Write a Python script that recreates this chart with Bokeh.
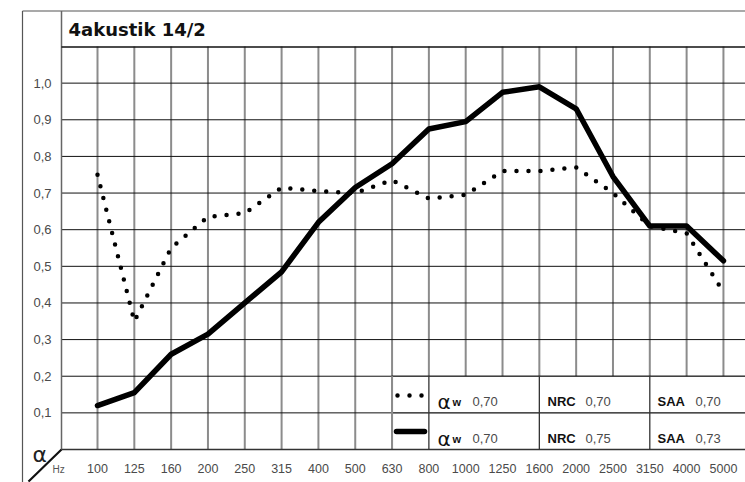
from bokeh.plotting import figure
from bokeh.models import Range1d
from bokeh.core.properties import value
from bokeh.embed import file_html
from bokeh.resources import INLINE

# ---------------- data ----------------
freqs = ["100", "125", "160", "200", "250", "315", "400", "500", "630", "800",
         "1000", "1250", "1600", "2000", "2500", "3150", "4000", "5000"]
alpha_dotted = [0.75, 0.35, 0.55, 0.635, 0.645, 0.715, 0.705, 0.70, 0.735, 0.685,
                0.695, 0.76, 0.76, 0.77, 0.70, 0.61, 0.59, 0.43]
alpha_solid = [0.12, 0.155, 0.26, 0.315, 0.40, 0.485, 0.62, 0.715, 0.78, 0.875,
               0.895, 0.975, 0.99, 0.93, 0.745, 0.61, 0.61, 0.515]
y_ticks = [0.1, 0.2, 0.3, 0.4, 0.5, 0.6, 0.7, 0.8, 0.9, 1.0]
y_tick_labels = ["0,1", "0,2", "0,3", "0,4", "0,5", "0,6", "0,7", "0,8", "0,9", "1,0"]
legend_aw = ["0,70", "0,70"]
legend_nrc = ["0,70", "0,75"]
legend_saa = ["0,70", "0,73"]
title_text = "4akustik 14/2"

# ---------------- layout constants (page pixels) ----------------
FIG_W, FIG_H = 745, 482
X_ORIGIN_PX = 97.0       # pixel of the first band (100 Hz)
PX_X = 36.82             # pixels per frequency band
Y_ORIGIN_PX = 449.0      # pixel of alpha = 0
PX_Y = 366.36            # pixels per alpha unit


def dx(px):  # page pixel -> data x
    return (px - X_ORIGIN_PX) / PX_X


def dy(py):  # page pixel -> data y
    return (Y_ORIGIN_PX - py) / PX_Y


X_START, X_END = dx(0), dx(FIG_W)
Y_START, Y_END = dy(FIG_H), dy(0)
PLOT_LEFT = dx(61)
PLOT_TOP = dy(46)

xs = list(range(len(freqs)))

p = figure(width=FIG_W, height=FIG_H, x_range=Range1d(X_START, X_END),
           y_range=Range1d(Y_START, Y_END), output_backend="svg", toolbar_location=None,
           min_border=0)
p.axis.visible = False
p.grid.visible = False
p.outline_line_color = None
p.background_fill_color = "white"
p.border_fill_color = "white"

LBL = value("Liberation Sans")

# grid lines
p.segment(x0=xs, y0=[0] * len(xs), x1=xs, y1=[PLOT_TOP] * len(xs),
          line_color="#8c8c8c", line_width=2)
p.segment(x0=[PLOT_LEFT] * len(y_ticks), y0=y_ticks, x1=[X_END + 1] * len(y_ticks),
          y1=y_ticks, line_color="#111111", line_width=1)

# tick labels
p.text(x=xs, y=[dy(468)] * len(xs), text=freqs, text_font=LBL, text_font_size="12.5px",
       text_color="#4a4a4a", text_align="center", text_baseline="middle")
p.text(x=[dx(51)] * len(y_ticks), y=y_ticks, text=y_tick_labels, text_font=LBL,
       text_font_size="13px", text_color="#4a4a4a", text_align="right",
       text_baseline="middle")

# legend table
cols = [8, 9, 12, 15]
rows = [0.0, 0.1, 0.2]
p.quad(left=cols[0], right=X_END + 1, bottom=rows[0], top=rows[2], fill_color="white",
       line_color=None)
p.segment(x0=[cols[0], cols[0]], y0=[rows[1], rows[2]], x1=[X_END + 1] * 2,
          y1=[rows[1], rows[2]], line_color="#111111", line_width=1.2)
p.segment(x0=[cols[0]], y0=[rows[0]], x1=[cols[0]], y1=[rows[2]],
          line_color="#8c8c8c", line_width=2)
p.segment(x0=cols[1:], y0=[rows[0]] * 3, x1=cols[1:], y1=[rows[2]] * 3,
          line_color="#333333", line_width=1.3)

# structural frame lines
frame_x0 = [22, 22, 61, 61, 61]
frame_y0 = [10.5, 10.5, 10.5, 46.5, 449]
frame_x1 = [22, 760, 61, 760, 760]
frame_y1 = [490, 10.5, 449, 46.5, 449]
frame_col = ["#555555", "#555555", "#666666", "#111111", "#333333"]
frame_w = [1.2, 1.2, 1.5, 1.5, 1.5]
p.segment(x0=[dx(v) for v in frame_x0], y0=[dy(v) for v in frame_y0],
          x1=[dx(v) for v in frame_x1], y1=[dy(v) for v in frame_y1],
          line_color=frame_col, line_width=frame_w)
# diagonal corner line
p.line([dx(61), dx(44.5), dx(28)], [dy(449), dy(465), dy(481)], line_color="#111111",
       line_width=2.2)

# curves
p.line(xs, alpha_solid, line_color="black", line_width=5.5, line_join="round",
       line_cap="round")
p.line(xs, alpha_dotted, line_color="black", line_width=4.5, line_dash="0 12",
       line_cap="round")

# legend samples and texts
p.line([dx(397), dx(423)], [dy(395)] * 2, line_color="black", line_width=4.5,
       line_dash="0 12", line_cap="round")
p.line([dx(396), dx(424)], [dy(431)] * 2, line_color="black", line_width=5.5,
       line_cap="round")
base = [dy(401), dy(438)]
p.text(x=[dx(437)] * 2, y=base, text=["α", "α"], text_font=value("DejaVu Sans"),
       text_font_size="20px", text_color="#111111", text_baseline="alphabetic")
p.text(x=[dx(452)] * 2, y=base, text=["w", "w"], text_font=LBL,
       text_font_size="11px", text_font_style="bold", text_color="#111111",
       text_baseline="alphabetic")
p.text(x=[dx(472)] * 2, y=base, text=legend_aw, text_font=LBL,
       text_font_size="13px", text_color="#4a4a4a", text_baseline="alphabetic")
p.text(x=[dx(547)] * 2, y=base, text=["NRC", "NRC"], text_font=LBL,
       text_font_size="13px", text_font_style="bold", text_color="#111111",
       text_baseline="alphabetic")
p.text(x=[dx(585)] * 2, y=base, text=legend_nrc, text_font=LBL,
       text_font_size="13px", text_color="#4a4a4a", text_baseline="alphabetic")
p.text(x=[dx(657)] * 2, y=base, text=["SAA", "SAA"], text_font=LBL,
       text_font_size="13px", text_font_style="bold", text_color="#111111",
       text_baseline="alphabetic")
p.text(x=[dx(695)] * 2, y=base, text=legend_saa, text_font=LBL,
       text_font_size="13px", text_color="#4a4a4a", text_baseline="alphabetic")

# title, alpha symbol, Hz
p.text(x=[dx(68)], y=[dy(29)], text=[title_text], text_font=value("DejaVu Sans"),
       text_font_size="18px", text_font_style="bold", text_color="#111111",
       text_baseline="middle")
p.text(x=[dx(32)], y=[dy(454)], text=["α"], text_font=value("DejaVu Sans"),
       text_font_size="22px", text_color="#222222", text_baseline="middle")
p.text(x=[dx(52)], y=[dy(469)], text=["Hz"], text_font=LBL,
       text_font_size="10px", text_color="#555555", text_baseline="middle")

open("out.html", "w").write(file_html(p, INLINE))
